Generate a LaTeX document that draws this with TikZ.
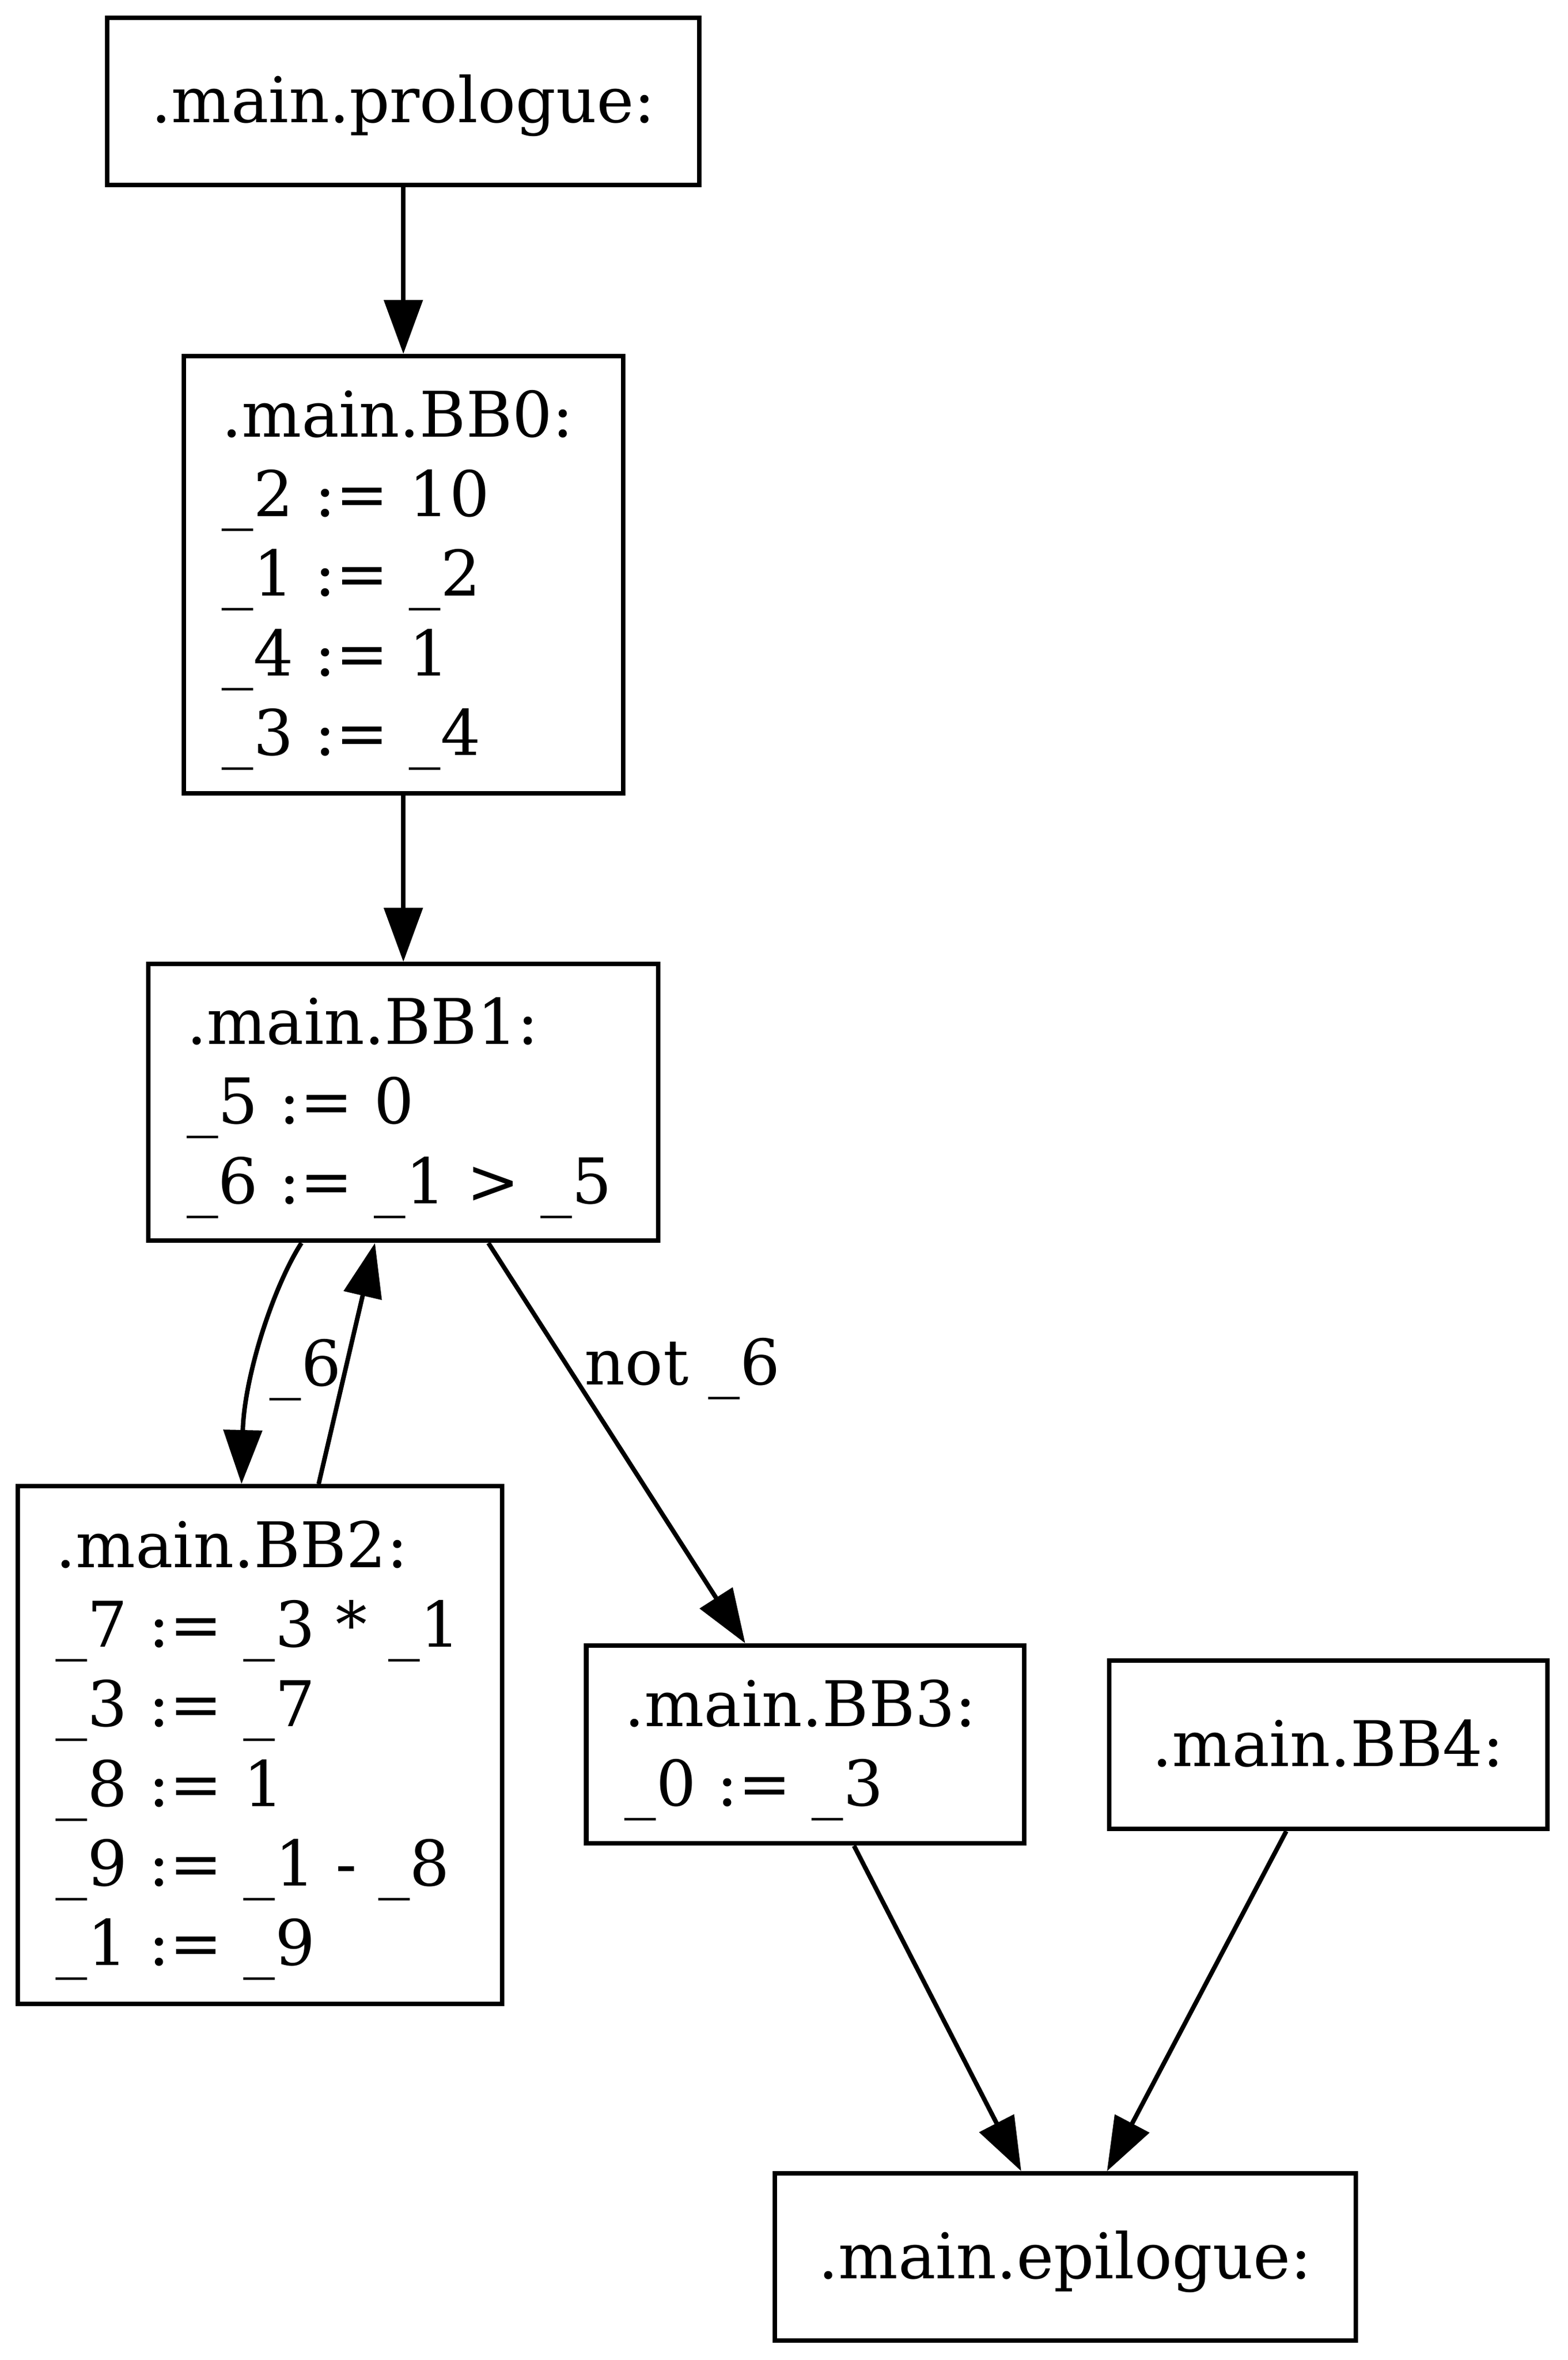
\documentclass[tikz,border=0pt]{standalone}
\usepackage{fontspec}
\setmainfont{DejaVu Serif}
\usetikzlibrary{arrows.meta,calc}
\tikzset{
	block/.style={draw, line width=1pt, rectangle, inner ysep=0pt, text height=13.6pt, font=\fontsize{14}{17.69}\selectfont},
	leftblock/.style={block, inner xsep=8.5pt, text width=#1, align=left},
	midblock/.style={block, inner xsep=0pt, minimum width=#1},
	flow/.style={line width=1pt, -{Triangle[length=12pt, width=8.5pt]}},
	lbl/.style={inner sep=0pt, anchor=base west, font=\fontsize{14}{17.69}\selectfont}
}

\begin{document}
\begin{tikzpicture}[x=0.335pt, y=-0.335pt]
			%%%%% START %%%%%
			\useasboundingbox (0, 0) rectangle (1040.3, 1566);
			
			\node[midblock=131.66pt, minimum height=37.19pt, text depth=4.09pt] (prologue) at (267.7, 67.2) {.main.prologue:};
			\node[leftblock=80.69pt, minimum height=97.18pt, text depth=74.85pt] (BB0) at (267.7, 381.35) {.main.BB0:\\\_2 := 10\\\_1 := \_2\\\_4 := 1\\\_3 := \_4};
			\node[leftblock=96.33pt, minimum height=61.51pt, text depth=39.47pt] (BB1) at (267.7, 731.5) {.main.BB1:\\\_5 := 0\\\_6 := \_1 > \_5};
			\node[leftblock=90.70pt, minimum height=115.04pt, text depth=92.54pt] (BB2) at (172.55, 1157.9) {.main.BB2:\\\_7 := \_3 * \_1\\\_3 := \_7\\\_8 := 1\\\_9 := \_1 - \_8\\\_1 := \_9};
			\node[leftblock=80.42pt, minimum height=44.02pt, text depth=21.78pt] (BB3) at (534.5, 1157.6) {.main.BB3:\\\_0 := \_3};
			\node[midblock=97.55pt, minimum height=37.39pt, text depth=4.09pt] (BB4) at (881.6, 1157.8) {.main.BB4:};
			\node[midblock=129.18pt, minimum height=37.19pt, text depth=4.09pt] (epilogue) at (706.9, 1497.7) {.main.epilogue:};
			
			\draw[flow] (prologue) -- (BB0);
			\draw[flow] (BB0) -- (BB1);
			
			\coordinate (b1out) at ($(BB1.south)+(-67.65, 0)$);
			\coordinate (b2in) at ($(BB2.north)+(-12.25, 0)$);
			\draw[flow] (b1out) .. controls ($(b1out)+(-19.2, 30)$) and ($(b2in)+(1.7, -70.4)$) .. (b2in);
			\draw[flow] ($(BB2.north)+(38.95, 0)$) -- ($(BB1.south)+(-18.85, 0)$);
			\draw[flow] ($(BB1.south)+(56.45, 0)$) -- ($(BB3.north)+(-39.9, 0)$);
			
			\draw[flow] ($(BB3.south)+(32.3, 0)$) -- ($(epilogue.north)+(-29.1, 0)$);
			\draw[flow] ($(BB4.south)+(-27.9, 0)$) -- ($(epilogue.north)+(27.8, 0)$);
			
			\node[lbl] (l6) at (178.5, 919.5) {\_6};
			\node[lbl] (lnot6) at (387.5, 918.8) {not \_6};
			%%%%% END %%%%%
\end{tikzpicture}
\end{document}
